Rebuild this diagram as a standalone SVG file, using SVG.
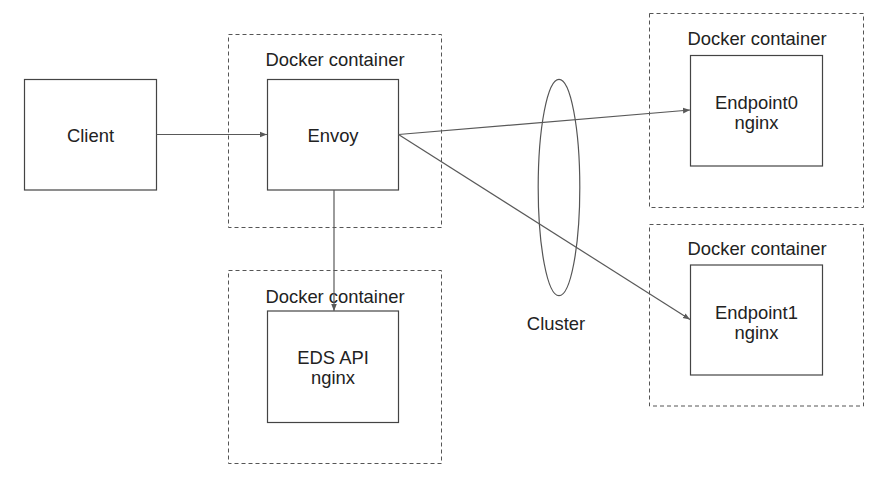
<svg xmlns="http://www.w3.org/2000/svg" width="886" height="479" viewBox="0 0 886 479">
<defs>
<style>
.cont{fill:none;stroke:#555;stroke-width:1;stroke-dasharray:4,3}
.box{fill:#fff;stroke:#444;stroke-width:1.2}
.t{font-family:"Liberation Sans",Arial,sans-serif;font-size:18.4px;fill:#222;text-anchor:middle}
.edge{fill:none;stroke:#595959;stroke-width:1.2}
</style>
<marker id="ah" viewBox="0 0 10 10" refX="10" refY="5" markerWidth="7" markerHeight="7" markerUnits="userSpaceOnUse" orient="auto">
<path d="M0,1 L10,5 L0,9 Z" fill="#595959"/>
</marker>
</defs>
<rect width="886" height="479" fill="#fff"/>
<g id="client">
<rect class="box" x="24.5" y="79.5" width="132" height="110.5"/>
<text class="t" x="90.5" y="142">Client</text>
</g>
<g id="envoy-container">
<rect class="cont" x="228.5" y="34.5" width="213" height="193"/>
<text class="t" x="335" y="66">Docker container</text>
</g>
<g id="envoy">
<rect class="box" x="267.5" y="79.5" width="131" height="110.5"/>
<text class="t" x="333" y="142">Envoy</text>
</g>
<g id="eds-container">
<rect class="cont" x="228.5" y="270.5" width="213" height="193"/>
<text class="t" x="335" y="302.5">Docker container</text>
</g>
<g id="eds">
<rect class="box" x="267.5" y="311" width="131" height="111.5"/>
<text class="t" x="333" y="364">EDS API</text>
<text class="t" x="333" y="384">nginx</text>
</g>
<g id="cluster">
<ellipse cx="559" cy="187.5" rx="20.8" ry="108.2" fill="none" stroke="#555" stroke-width="1.2"/>
<text class="t" x="556" y="329.5">Cluster</text>
</g>
<g id="ep0-container">
<rect class="cont" x="649.5" y="13.5" width="214" height="194"/>
<text class="t" x="757" y="45">Docker container</text>
</g>
<g id="endpoint0">
<rect class="box" x="690.5" y="55.5" width="132" height="110.5"/>
<text class="t" x="756.5" y="109">Endpoint0</text>
<text class="t" x="756.5" y="129">nginx</text>
</g>
<g id="ep1-container">
<rect class="cont" x="649.5" y="224.5" width="214" height="181.5"/>
<text class="t" x="757" y="255">Docker container</text>
</g>
<g id="endpoint1">
<rect class="box" x="690.5" y="265" width="132" height="110"/>
<text class="t" x="756.5" y="319">Endpoint1</text>
<text class="t" x="756.5" y="339">nginx</text>
</g>
<g id="connectors">
<line class="edge" x1="156.5" y1="134.5" x2="267" y2="134.5" marker-end="url(#ah)"/>
<line class="edge" x1="334" y1="190" x2="334" y2="311" marker-end="url(#ah)"/>
<line class="edge" x1="398.5" y1="134.5" x2="690" y2="110" marker-end="url(#ah)"/>
<line class="edge" x1="398.5" y1="134.5" x2="690" y2="319.5" marker-end="url(#ah)"/>
</g>
</svg>
